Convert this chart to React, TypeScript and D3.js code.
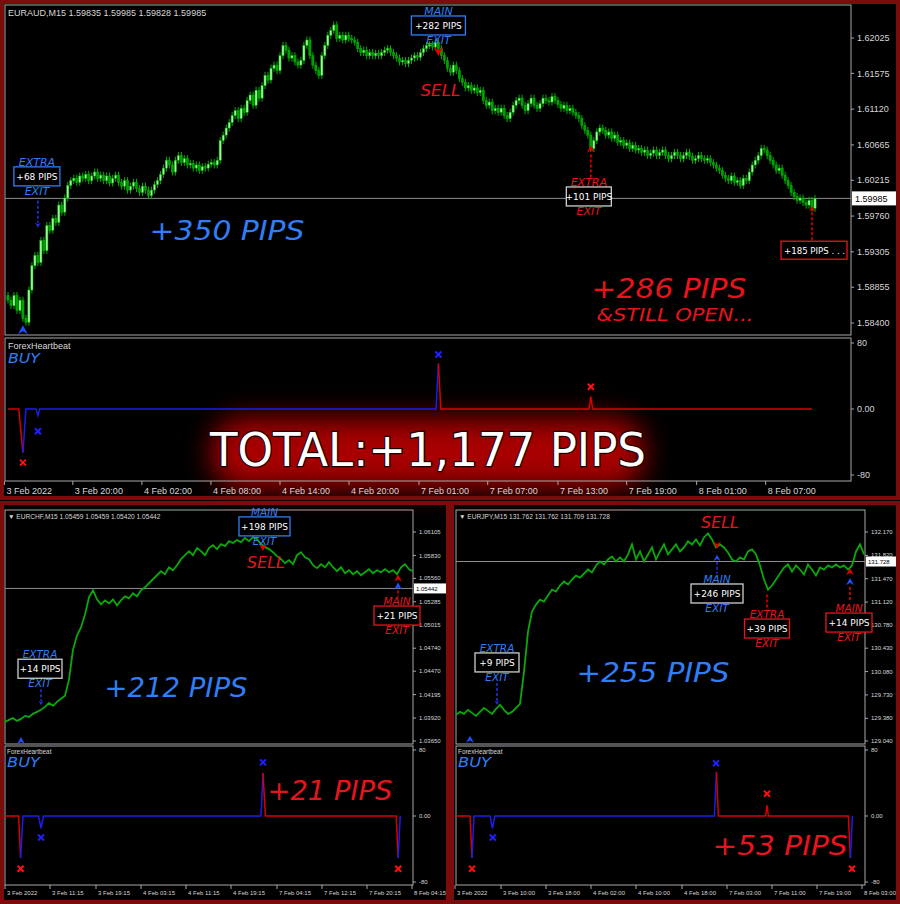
import React from 'react';
import * as d3 from 'd3';

/* ================= DATA ================= */
// ---- EURAUD M15 (top) ----
const euraudHeader = 'EURAUD,M15  1.59835 1.59985 1.59828 1.59985';
const euraudFirstOpen = 1.5875;
const euraudClose = [
  1.5869, 1.5862, 1.5875, 1.5856, 1.5869, 1.5846, 1.5841, 1.5882, 1.5913, 1.5926,
  1.5917, 1.5945, 1.5932, 1.5964, 1.5958, 1.5973, 1.5968, 1.5990, 1.5981, 1.5999,
  1.6015, 1.6021, 1.6024, 1.6019, 1.6027, 1.6024, 1.6029, 1.6021, 1.6027, 1.6032,
  1.6024, 1.6028, 1.6021, 1.6027, 1.6018, 1.6024, 1.6028, 1.6019, 1.6014, 1.6021,
  1.6009, 1.6014, 1.6019, 1.6011, 1.6006, 1.6014, 1.6009, 1.6002, 1.6009, 1.6016,
  1.6021, 1.6029, 1.6037, 1.6047, 1.6041, 1.6032, 1.6047, 1.6053, 1.6044, 1.6049,
  1.6041, 1.6043, 1.6037, 1.6041, 1.6034, 1.6039, 1.6037, 1.6042, 1.6044, 1.6041,
  1.6047, 1.6072, 1.6079, 1.6088, 1.6095, 1.6104, 1.6110, 1.6100, 1.6113, 1.6108,
  1.6123, 1.6130, 1.6117, 1.6136, 1.6126, 1.6142, 1.6155, 1.6149, 1.6164, 1.6168,
  1.6161, 1.6180, 1.6193, 1.6187, 1.6177, 1.6180, 1.6172, 1.6168, 1.6174, 1.6193,
  1.6200, 1.6180, 1.6168, 1.6161, 1.6155, 1.6180, 1.6193, 1.6206, 1.6212, 1.6219,
  1.6202, 1.6206, 1.6200, 1.6206, 1.6202, 1.6200, 1.6197, 1.6189, 1.6184, 1.6187,
  1.6180, 1.6184, 1.6180, 1.6183, 1.6180, 1.6184, 1.6187, 1.6189, 1.6184, 1.6180,
  1.6177, 1.6172, 1.6174, 1.6170, 1.6174, 1.6177, 1.6180, 1.6178, 1.6184, 1.6189,
  1.6193, 1.6194, 1.6191, 1.6197, 1.6189, 1.6180, 1.6174, 1.6164, 1.6159, 1.6168,
  1.6161, 1.6151, 1.6146, 1.6139, 1.6142, 1.6136, 1.6139, 1.6133, 1.6136, 1.6123,
  1.6117, 1.6121, 1.6110, 1.6113, 1.6108, 1.6113, 1.6104, 1.6100, 1.6108, 1.6117,
  1.6123, 1.6126, 1.6117, 1.6110, 1.6119, 1.6126, 1.6117, 1.6113, 1.6119, 1.6126,
  1.6123, 1.6121, 1.6128, 1.6123, 1.6118, 1.6113, 1.6117, 1.6110, 1.6113, 1.6108,
  1.6104, 1.6100, 1.6091, 1.6085, 1.6079, 1.6062, 1.6072, 1.6083, 1.6088, 1.6085,
  1.6079, 1.6083, 1.6075, 1.6079, 1.6070, 1.6072, 1.6066, 1.6069, 1.6062, 1.6066,
  1.6060, 1.6062, 1.6057, 1.6060, 1.6053, 1.6056, 1.6060, 1.6053, 1.6057, 1.6060,
  1.6053, 1.6049, 1.6053, 1.6057, 1.6053, 1.6049, 1.6053, 1.6057, 1.6052, 1.6047,
  1.6049, 1.6053, 1.6049, 1.6047, 1.6049, 1.6044, 1.6041, 1.6037, 1.6034, 1.6028,
  1.6024, 1.6021, 1.6027, 1.6019, 1.6021, 1.6015, 1.6024, 1.6021, 1.6032, 1.6041,
  1.6047, 1.6053, 1.6062, 1.6060, 1.6053, 1.6047, 1.6041, 1.6034, 1.6037, 1.6028,
  1.6021, 1.6015, 1.6006, 1.6001, 1.5996, 1.5999, 1.5993, 1.5990, 1.5996, 1.5986,
  1.59985,
];
const euraudBid = 1.59985;
const euraudPriceTicks = [1.584, 1.58855, 1.59305, 1.5976, 1.60215, 1.60665, 1.6112, 1.61575, 1.62025];
const euraudTimeLabels = ['3 Feb 2022', '3 Feb 20:00', '4 Feb 02:00', '4 Feb 08:00', '4 Feb 14:00', '4 Feb 20:00', '7 Feb 01:00', '7 Feb 07:00', '7 Feb 13:00', '7 Feb 19:00', '8 Feb 01:00', '8 Feb 07:00'];
const euraudTimeBars = [-1.2, 21.7, 44.8, 67.9, 91, 114.1, 137.5, 160.5, 184, 207, 230.4, 253.5];
const euraudIndRed1 = [[0, 0], [3.6, 0], [5, -53]];
const euraudIndBlue = [[5, -53], [6, 0], [9.4, 0], [10, -8], [10.6, 0], [143.2, 0], [144, 55]];
const euraudIndRed2 = [[144, 55], [144.8, 0], [194.4, 0], [195, 15], [195.6, 0], [269, 0]];
const euraudIndMarks = [[5, -65, 'r'], [10, -27, 'b'], [144, 66, 'b'], [195, 27, 'r']];
const euraudBuy = { bar: 5, price: 1.5837 };
const euraudExtraExit = { bar: 10, price: 1.5961, pips: '+68 PIPS' };
const euraudMainExit = { bar: 144, price: 1.6186, pips: '+282 PIPS' };
const euraudExtraExit2 = { bar: 195, price: 1.6062, pips: '+101 PIPS' };
const euraudOpen = { bar: 269, price: 1.5986, pips: '+185 PIPS . . .' };

// ---- EURCHF M15 (bottom left) ----
const eurchfHeader = 'EURCHF,M15  1.05459 1.05459 1.05420 1.05442';
const eurchfClose = [
  1.03874, 1.03898, 1.03921, 1.03886, 1.03910, 1.03945, 1.03933, 1.03969, 1.03992, 1.04016,
  1.04051, 1.04098, 1.04063, 1.04110, 1.04146, 1.04181, 1.04370, 1.04724, 1.04889, 1.04983,
  1.05137, 1.05337, 1.05420, 1.05314, 1.05255, 1.05302, 1.05267, 1.05314, 1.05243, 1.05302,
  1.05349, 1.05326, 1.05385, 1.05349, 1.05420, 1.05455, 1.05503, 1.05550, 1.05597, 1.05644,
  1.05609, 1.05691, 1.05656, 1.05715, 1.05786, 1.05833, 1.05880, 1.05833, 1.05916, 1.05880,
  1.05833, 1.05916, 1.05951, 1.05904, 1.05963, 1.05939, 1.05998, 1.05975, 1.06010, 1.05986,
  1.06034, 1.05998, 1.06045, 1.06022, 1.05963, 1.05927, 1.05904, 1.05868, 1.05821, 1.05786,
  1.05739, 1.05774, 1.05727, 1.05833, 1.05868, 1.05809, 1.05786, 1.05715, 1.05680, 1.05727,
  1.05691, 1.05750, 1.05691, 1.05644, 1.05691, 1.05621, 1.05656, 1.05609, 1.05644, 1.05597,
  1.05632, 1.05668, 1.05621, 1.05656, 1.05632, 1.05668, 1.05632, 1.05656, 1.05609, 1.05691,
  1.05727, 1.05668, 1.05644,
];
const eurchfBid = 1.05442;
const eurchfPriceTicks = [1.0365, 1.0392, 1.04195, 1.0447, 1.0474, 1.05015, 1.05285, 1.0556, 1.0583, 1.06105];
const eurchfTimeLabels = ['3 Feb 2022', '3 Feb 11:15', '3 Feb 19:15', '4 Feb 03:15', '4 Feb 11:15', '4 Feb 19:15', '7 Feb 04:15', '7 Feb 12:15', '7 Feb 20:15', '8 Feb 04:15'];
const eurchfTimeBars = [0, 11.25, 22.75, 34, 45.25, 56.5, 68, 79.25, 90.5, 101.75];
const eurchfIndRed1 = [[0, 0], [3.4, 0], [3.9, -51]];
const eurchfIndBlue = [[3.9, -51], [4.5, 0], [8.4, 0], [9, -15], [9.6, 0], [64, 0], [64.5, 52]];
const eurchfIndRed2 = [[64.5, 52], [65.1, 0], [97.8, 0], [98.3, -51]];
const eurchfIndBlue2 = [[98.3, -51], [98.8, 0]];
const eurchfIndMarks = [[3.9, -64, 'r'], [9, -26, 'b'], [64.5, 65, 'b'], [98.3, -64, 'r']];
const eurchfBuy = { idx: 4, price: 1.03697 };
const eurchfExtraExit = { idx: 9, price: 1.0407, pips: '+14 PIPS' };
const eurchfMainExit = { idx: 64.5, price: 1.0593, pips: '+198 PIPS' };
const eurchfFinalExit = { idx: 98.25, price: 1.0557, pips: '+21 PIPS' };

// ---- EURJPY M15 (bottom right) ----
const eurjpyHeader = 'EURJPY,M15  131.762 131.762 131.709 131.728';
const eurjpyClose = [
  129.431, 129.476, 129.446, 129.506, 129.461, 129.416, 129.476, 129.536, 129.491, 129.446,
  129.521, 129.581, 129.506, 129.446, 129.476, 129.536, 129.596, 130.076, 130.677, 130.978,
  131.083, 131.158, 131.128, 131.218, 131.308, 131.278, 131.368, 131.428, 131.383, 131.458,
  131.518, 131.488, 131.548, 131.608, 131.563, 131.669, 131.729, 131.684, 131.759, 131.804,
  131.729, 131.789, 131.729, 131.834, 131.984, 131.759, 131.879, 131.729, 131.834, 131.939,
  131.759, 131.879, 131.984, 131.834, 131.909, 131.984, 131.879, 131.939, 132.029, 131.984,
  132.059, 131.969, 132.089, 132.149, 132.059, 131.939, 131.984, 131.939, 131.864, 131.759,
  131.729, 131.789, 131.759, 131.879, 131.909, 131.834, 131.669, 131.458, 131.308, 131.368,
  131.458, 131.548, 131.638, 131.684, 131.578, 131.669, 131.608, 131.533, 131.684, 131.608,
  131.518, 131.638, 131.608, 131.669, 131.638, 131.684, 131.638, 131.669, 131.608, 131.669,
  131.879, 131.984, 131.834,
];
const eurjpyBid = 131.728;
const eurjpyPriceTicks = [129.04, 129.38, 129.73, 130.08, 130.43, 130.78, 131.12, 131.47, 131.82, 132.17];
const eurjpyTimeLabels = ['3 Feb 2022', '3 Feb 10:00', '3 Feb 18:00', '4 Feb 02:00', '4 Feb 10:00', '4 Feb 18:00', '7 Feb 03:00', '7 Feb 11:00', '7 Feb 19:00', '8 Feb 03:00'];
const eurjpyTimeBars = [-0.25, 11.25, 22.5, 33.75, 45, 56.5, 67.75, 79, 90.25, 101.5];
const eurjpyIndRed1 = [[0, 0], [3.5, 0], [4, -51]];
const eurjpyIndBlue = [[4, -51], [4.5, 0], [8.5, 0], [9.1, -15], [9.7, 0], [64.6, 0], [65.1, 53]];
const eurjpyIndRed2 = [[65.1, 53], [65.6, 0], [77.4, 0], [77.75, 13], [78.1, 0], [98.1, 0], [98.6, -51]];
const eurjpyIndBlue2 = [[98.6, -51], [99.1, 0]];
const eurjpyIndMarks = [[4, -64, 'r'], [9.2, -26, 'b'], [65, 64, 'b'], [77.75, 27, 'r'], [99, -64, 'r']];
const eurjpyBuy = { idx: 3.5, price: 129.12 };
const eurjpyExtraExit = { idx: 10.25, price: 129.58, pips: '+9 PIPS' };
const eurjpyMainExit = { idx: 65.25, price: 131.98, pips: '+246 PIPS' };
const eurjpyExtraExit2 = { idx: 77.75, price: 131.28, pips: '+39 PIPS' };
const eurjpyFinalExit = { idx: 98.5, price: 131.6, pips: '+14 PIPS' };

const indTicks = [80, 0, -80];
const indTickLabels = ['80', '0.00', '-80'];
const resultLabels = ['+350 PIPS', '+286 PIPS', '&STILL OPEN...', '+212 PIPS', '+21 PIPS', '+255 PIPS', '+53 PIPS', 'TOTAL:+1,177 PIPS'];

/* ================= STYLE ================= */
const FONT = "'Liberation Sans', Arial, sans-serif";
const SFONT = "'DejaVu Sans', Verdana, sans-serif";
const BLUE = '#2f7ef5';
const RED = '#e8141c';
const IBLUE = '#1c1cf0';
const IRED = '#d80000';
const FRAME = '#a8a8a8';
const TXT = '#d6d6d6';
const GREEN = '#0aa80a';
const BORDER = '#7a0c0c';

function RightAxis({ x, ticks, labels, scale, fs }: any) {
  return (
    <g>
      {ticks.map((t: number, i: number) => (
        <g key={i}>
          <line x1={x} x2={x + 3} y1={scale(t)} y2={scale(t)} stroke={FRAME} />
          <text x={x + 6} y={scale(t)} dy="0.35em" fontSize={fs} fill={TXT} fontFamily={FONT}>{labels[i]}</text>
        </g>
      ))}
    </g>
  );
}

function TimeAxis({ y, labels, bars, xs, fs }: any) {
  return (
    <g>
      {labels.map((l: string, i: number) => (
        <g key={i}>
          <line x1={xs(bars[i])} x2={xs(bars[i])} y1={y} y2={y + 4} stroke={FRAME} />
          <text x={xs(bars[i]) + 2} y={y + fs + 4} fontSize={fs} fill={TXT} fontFamily={FONT}>{l}</text>
        </g>
      ))}
    </g>
  );
}

function IndLine({ pts, xs, ys, color }: any) {
  const gen = d3.line<any>().x((d) => xs(d[0])).y((d) => ys(d[1]));
  return <path d={gen(pts) || ''} fill="none" stroke={color} strokeWidth={1.5} />;
}

function XMarks({ marks, xs, ys }: any) {
  return (
    <g>
      {marks.map((m: any, i: number) => {
        const x = xs(m[0]);
        const y = ys(m[1]);
        const c = m[2] === 'r' ? '#ff1010' : '#2020ff';
        return (
          <g key={i} stroke={c} strokeWidth={2}>
            <line x1={x - 3} x2={x + 3} y1={y - 3} y2={y + 3} />
            <line x1={x - 3} x2={x + 3} y1={y + 3} y2={y - 3} />
          </g>
        );
      })}
    </g>
  );
}

function Up({ x, y, c, s = 1 }: any) {
  return <path d={`M${x},${y} L${x + 5 * s},${y + 9 * s} L${x},${y + 6 * s} L${x - 5 * s},${y + 9 * s} Z`} fill={c} />;
}
function Down({ x, y, c, s = 1 }: any) {
  return <path d={`M${x},${y} L${x + 5 * s},${y - 9 * s} L${x},${y - 6 * s} L${x - 5 * s},${y - 9 * s} Z`} fill={c} />;
}
function Dash({ x, y1, y2, c }: any) {
  return <line x1={x} x2={x} y1={y1} y2={y2} stroke={c} strokeWidth={1.6} strokeDasharray="3 2" />;
}

function Stack({ x, t, l1, c1, box, bw, bs, l2, c2, fs = 10.5, bfs = 9 }: any) {
  return (
    <g fontFamily={SFONT}>
      <text x={x} y={t} fontSize={fs} fontStyle="italic" fill={c1} textAnchor="middle">{l1}</text>
      <rect x={x - bw / 2} y={t + 1} width={bw} height={19} fill="#000" stroke={bs} strokeWidth={1.3} />
      <text x={x} y={t + 14} fontSize={bfs} fill="#fff" textAnchor="middle">{box}</text>
      <text x={x} y={t + 29} fontSize={fs} fontStyle="italic" fill={c2} textAnchor="middle">{l2}</text>
    </g>
  );
}

function Big({ x, y, w, fs, c, text, italic = true }: any) {
  return (
    <text x={x} y={y} fontSize={fs} fontFamily={SFONT} fontStyle={italic ? 'italic' : 'normal'} fill={c}
      textAnchor="middle" textLength={w} lengthAdjust="spacingAndGlyphs">{text}</text>
  );
}

export default function App() {
  // scales – top
  const tx = d3.scaleLinear().domain([0, euraudClose.length - 1]).range([8, 815]);
  const ty = d3.scaleLinear().domain([1.584, 1.62025]).range([323, 38]);
  const tiy = d3.scaleLinear().domain([-80, 80]).range([475, 343]);
  // bottom left
  const lx = d3.scaleLinear().domain([0, eurchfClose.length - 1]).range([5, 413]);
  const ly = d3.scaleLinear().domain([1.0365, 1.06105]).range([741, 532]);
  const biy = d3.scaleLinear().domain([-80, 80]).range([882, 750]);
  // bottom right
  const rx = d3.scaleLinear().domain([0, eurjpyClose.length - 1]).range([456, 864]);
  const ry = d3.scaleLinear().domain([129.04, 132.17]).range([741, 532]);

  const lineL = d3.line<number>().x((_, i) => lx(i)).y((d) => ly(d));
  const lineR = d3.line<number>().x((_, i) => rx(i)).y((d) => ry(d));

  const candles = euraudClose.map((c, i) => {
    const o = i === 0 ? euraudFirstOpen : euraudClose[i - 1];
    const x = tx(i);
    const y1 = ty(Math.max(o, c));
    const y2 = ty(Math.min(o, c));
    const up = c >= o;
    return (
      <g key={i}>
        <line x1={x} x2={x} y1={y1 - 3.5} y2={y2 + 3.5} stroke="#00b000" strokeWidth={1} />
        <rect x={x - 1.1} y={y1} width={2.2} height={Math.max(1.5, y2 - y1)} fill={up ? '#9ef59a' : '#00a000'} stroke="#00b400" strokeWidth={0.5} />
      </g>
    );
  });

  // anchors
  const aBuy = [tx(euraudBuy.bar), ty(euraudBuy.price)];
  const aEx = [tx(euraudExtraExit.bar), ty(euraudExtraExit.price)];
  const aMain = [tx(euraudMainExit.bar), ty(euraudMainExit.price)];
  const aEx2 = [tx(euraudExtraExit2.bar), ty(euraudExtraExit2.price)];
  const aOpen = [tx(euraudOpen.bar), ty(euraudOpen.price)];

  const lBuy = [lx(eurchfBuy.idx), ly(eurchfBuy.price)];
  const lEx = [lx(eurchfExtraExit.idx), ly(eurchfExtraExit.price)];
  const lMain = [lx(eurchfMainExit.idx), ly(eurchfMainExit.price)];
  const lFin = [lx(eurchfFinalExit.idx), ly(eurchfFinalExit.price)];

  const rBuy = [rx(eurjpyBuy.idx), ry(eurjpyBuy.price)];
  const rEx = [rx(eurjpyExtraExit.idx), ry(eurjpyExtraExit.price)];
  const rMain = [rx(eurjpyMainExit.idx), ry(eurjpyMainExit.price)];
  const rEx2 = [rx(eurjpyExtraExit2.idx), ry(eurjpyExtraExit2.price)];
  const rFin = [rx(eurjpyFinalExit.idx), ry(eurjpyFinalExit.price)];

  return (
    <svg width={900} height={904} style={{ position: 'absolute', left: 0, top: 0, background: '#000' }}>
      <defs>
        <clipPath id="cT"><rect x={5} y={5} width={846} height={330} /></clipPath>
        <clipPath id="cL"><rect x={5} y={510} width={408} height={234} /></clipPath>
        <clipPath id="cR"><rect x={456} y={510} width={409} height={234} /></clipPath>
        <filter id="glow" x="-30%" y="-80%" width="160%" height="260%">
          <feGaussianBlur stdDeviation="14" />
        </filter>
      </defs>
      <rect width={900} height={904} fill="#000" />

      {/* ============ TOP: EURAUD ============ */}
      <rect x={212} y={418} width={432} height={70} rx={30} fill="#a80000" filter="url(#glow)" />
      <rect x={5} y={5} width={846} height={330} fill="none" stroke={FRAME} />
      <rect x={5} y={338} width={846} height={143} fill="none" stroke={FRAME} />
      <line x1={5} x2={851} y1={ty(euraudBid)} y2={ty(euraudBid)} stroke="#8c8c8c" />
      <g clipPath="url(#cT)">{candles}</g>
      <text x={8} y={16} fontSize={9} fill={TXT} fontFamily={FONT}>{euraudHeader}</text>
      <RightAxis x={851} ticks={euraudPriceTicks} labels={euraudPriceTicks.map((t) => t.toFixed(5))} scale={ty} fs={9} />
      <rect x={852} y={ty(euraudBid) - 7} width={44} height={14} fill="#fff" />
      <text x={855} y={ty(euraudBid)} dy="0.35em" fontSize={9} fill="#000" fontFamily={FONT}>{euraudBid.toFixed(5)}</text>
      <RightAxis x={851} ticks={indTicks} labels={indTickLabels} scale={tiy} fs={9} />
      <TimeAxis y={481} labels={euraudTimeLabels} bars={euraudTimeBars} xs={tx} fs={9} />
      <text x={8} y={349} fontSize={9} fill={TXT} fontFamily={FONT}>ForexHeartbeat</text>
      <text x={8} y={363} fontSize={14} fontStyle="italic" fill={BLUE} fontFamily={SFONT} textLength={32} lengthAdjust="spacingAndGlyphs">BUY</text>
      <IndLine pts={euraudIndRed1} xs={tx} ys={tiy} color={IRED} />
      <IndLine pts={euraudIndBlue} xs={tx} ys={tiy} color={IBLUE} />
      <IndLine pts={euraudIndRed2} xs={tx} ys={tiy} color={IRED} />
      <XMarks marks={euraudIndMarks} xs={tx} ys={tiy} />

      {/* signals top */}
      <Up x={aBuy[0]} y={aBuy[1]} c="#1e50ff" />
      <Dash x={aEx[0]} y1={aEx[1] - 27} y2={aEx[1] - 5} c="#2030e0" />
      <Down x={aEx[0]} y={aEx[1]} c="#2030e0" s={0.6} />
      <Stack x={aEx[0] - 1} t={aEx[1] - 62} l1="EXTRA" c1={BLUE} box={euraudExtraExit.pips} bw={46} bs={BLUE} l2="EXIT" c2={BLUE} fs={11} />
      <Down x={aMain[0]} y={aMain[1] + 5} c="#e00000" />
      <Stack x={aMain[0]} t={aMain[1] - 36} l1="MAIN" c1={BLUE} box={euraudMainExit.pips} bw={54} bs={BLUE} l2="EXIT" c2={BLUE} fs={11} />
      <text x={aMain[0] + 2} y={aMain[1] + 45} fontSize={16} fontStyle="italic" fill={RED} fontFamily={SFONT} textAnchor="middle" textLength={40} lengthAdjust="spacingAndGlyphs">SELL</text>
      <Up x={aEx2[0]} y={aEx2[1] - 3} c="#e00000" s={0.8} />
      <Dash x={aEx2[0]} y1={aEx2[1] + 6} y2={aEx2[1] + 30} c="#e00000" />
      <Stack x={aEx2[0] - 2} t={aEx2[1] + 37.5} l1="EXTRA" c1={RED} box={euraudExtraExit2.pips} bw={45} bs="#cfcfcf" l2="EXIT" c2={RED} fs={11} />
      <Up x={aOpen[0]} y={aOpen[1] - 2} c="#e00000" s={0.6} />
      <Dash x={aOpen[0]} y1={aOpen[1] + 4} y2={aOpen[1] + 32} c="#e00000" />
      <rect x={aOpen[0] - 31} y={aOpen[1] + 33} width={66} height={18} fill="#000" stroke={RED} strokeWidth={1.3} />
      <text x={aOpen[0] - 28} y={aOpen[1] + 46} fontSize={8.6} fill="#fff" fontFamily={SFONT}>{euraudOpen.pips}</text>

      <Big x={227} y={240} w={155} fs={27} c={BLUE} text={resultLabels[0]} />
      <Big x={669} y={298} w={155} fs={27} c={RED} text={resultLabels[1]} />
      <Big x={675} y={321} w={157} fs={17} c={RED} text={resultLabels[2]} />

      {/* ============ BOTTOM LEFT: EURCHF ============ */}
      <rect x={5} y={510} width={408} height={234} fill="none" stroke={FRAME} />
      <rect x={5} y={746} width={408} height={139} fill="none" stroke={FRAME} />
      <line x1={5} x2={413} y1={ly(eurchfBid)} y2={ly(eurchfBid)} stroke="#8c8c8c" />
      <g clipPath="url(#cL)">
        <path d={lineL(eurchfClose) || ''} fill="none" stroke={GREEN} strokeWidth={1.8} />
      </g>
      <text x={8} y={519} fontSize={6.6} fill={TXT} fontFamily={FONT}>{'\u25BC ' + eurchfHeader}</text>
      <RightAxis x={413} ticks={eurchfPriceTicks} labels={eurchfPriceTicks.map((t) => t.toFixed(5))} scale={ly} fs={6} />
      <rect x={414} y={ly(eurchfBid) - 5} width={32} height={10} fill="#fff" />
      <text x={416} y={ly(eurchfBid)} dy="0.35em" fontSize={6} fill="#000" fontFamily={FONT}>{eurchfBid.toFixed(5)}</text>
      <RightAxis x={413} ticks={indTicks} labels={indTickLabels} scale={biy} fs={6} />
      <TimeAxis y={885} labels={eurchfTimeLabels} bars={eurchfTimeBars} xs={lx} fs={6} />
      <text x={7} y={754} fontSize={6.4} fill={TXT} fontFamily={FONT}>ForexHeartbeat</text>
      <text x={7} y={767} fontSize={14} fontStyle="italic" fill={BLUE} fontFamily={SFONT} textLength={33} lengthAdjust="spacingAndGlyphs">BUY</text>
      <IndLine pts={eurchfIndRed1} xs={lx} ys={biy} color={IRED} />
      <IndLine pts={eurchfIndBlue} xs={lx} ys={biy} color={IBLUE} />
      <IndLine pts={eurchfIndRed2} xs={lx} ys={biy} color={IRED} />
      <IndLine pts={eurchfIndBlue2} xs={lx} ys={biy} color={IBLUE} />
      <XMarks marks={eurchfIndMarks} xs={lx} ys={biy} />

      <Up x={lBuy[0]} y={lBuy[1]} c="#1e50ff" s={0.8} />
      <Dash x={lEx[0]} y1={lEx[1] - 16} y2={lEx[1] - 4} c="#2030e0" />
      <Down x={lEx[0]} y={lEx[1]} c="#2030e0" s={0.5} />
      <Stack x={lEx[0] - 1} t={lEx[1] - 47} l1="EXTRA" c1={BLUE} box={eurchfExtraExit.pips} bw={44} bs="#cfcfcf" l2="EXIT" c2={BLUE} />
      <Down x={lMain[0]} y={lMain[1] + 4} c="#e00000" s={0.8} />
      <Stack x={lMain[0] + 1.5} t={lMain[1] - 31} l1="MAIN" c1={BLUE} box={eurchfMainExit.pips} bw={51} bs={BLUE} l2="EXIT" c2={BLUE} />
      <text x={lMain[0] + 3} y={lMain[1] + 21} fontSize={15} fontStyle="italic" fill={RED} fontFamily={SFONT} textAnchor="middle" textLength={38} lengthAdjust="spacingAndGlyphs">SELL</text>
      <Up x={lFin[0]} y={lFin[1] - 3} c="#e00000" s={0.8} />
      <Up x={lFin[0]} y={lFin[1] + 5} c="#1e50ff" s={0.8} />
      <Dash x={lFin[0]} y1={lFin[1] + 13} y2={lFin[1] + 19} c="#e00000" />
      <Stack x={lFin[0] - 1} t={lFin[1] + 27.5} l1="MAIN" c1={RED} box={eurchfFinalExit.pips} bw={46} bs={RED} l2="EXIT" c2={RED} />

      <Big x={176} y={697} w={143} fs={26} c={BLUE} text={resultLabels[3]} />
      <Big x={330} y={800} w={125} fs={26} c={RED} text={resultLabels[4]} />

      {/* ============ BOTTOM RIGHT: EURJPY ============ */}
      <rect x={456} y={510} width={409} height={234} fill="none" stroke={FRAME} />
      <rect x={456} y={746} width={409} height={139} fill="none" stroke={FRAME} />
      <line x1={456} x2={865} y1={ry(eurjpyBid)} y2={ry(eurjpyBid)} stroke="#8c8c8c" />
      <g clipPath="url(#cR)">
        <path d={lineR(eurjpyClose) || ''} fill="none" stroke={GREEN} strokeWidth={1.8} />
      </g>
      <text x={459} y={519} fontSize={6.6} fill={TXT} fontFamily={FONT}>{'\u25BC ' + eurjpyHeader}</text>
      <RightAxis x={865} ticks={eurjpyPriceTicks} labels={eurjpyPriceTicks.map((t) => t.toFixed(3))} scale={ry} fs={6} />
      <rect x={866} y={ry(eurjpyBid) - 5} width={31} height={10} fill="#fff" />
      <text x={868} y={ry(eurjpyBid)} dy="0.35em" fontSize={6} fill="#000" fontFamily={FONT}>{eurjpyBid.toFixed(3)}</text>
      <RightAxis x={865} ticks={indTicks} labels={indTickLabels} scale={biy} fs={6} />
      <TimeAxis y={885} labels={eurjpyTimeLabels} bars={eurjpyTimeBars} xs={rx} fs={6} />
      <text x={458} y={754} fontSize={6.4} fill={TXT} fontFamily={FONT}>ForexHeartbeat</text>
      <text x={458} y={767} fontSize={14} fontStyle="italic" fill={BLUE} fontFamily={SFONT} textLength={33} lengthAdjust="spacingAndGlyphs">BUY</text>
      <IndLine pts={eurjpyIndRed1} xs={rx} ys={biy} color={IRED} />
      <IndLine pts={eurjpyIndBlue} xs={rx} ys={biy} color={IBLUE} />
      <IndLine pts={eurjpyIndRed2} xs={rx} ys={biy} color={IRED} />
      <IndLine pts={eurjpyIndBlue2} xs={rx} ys={biy} color={IBLUE} />
      <XMarks marks={eurjpyIndMarks} xs={rx} ys={biy} />

      <Up x={rBuy[0]} y={rBuy[1]} c="#1e50ff" s={0.8} />
      <Dash x={rEx[0]} y1={rEx[1] - 22} y2={rEx[1] - 4} c="#2030e0" />
      <Down x={rEx[0]} y={rEx[1]} c="#2030e0" s={0.5} />
      <Stack x={rEx[0]} t={rEx[1] - 53} l1="EXTRA" c1={BLUE} box={eurjpyExtraExit.pips} bw={44} bs="#cfcfcf" l2="EXIT" c2={BLUE} />
      <Down x={rMain[0]} y={rMain[1] + 4} c="#e00000" s={0.8} />
      <Up x={rMain[0]} y={rMain[1] + 10} c="#1e50ff" s={0.7} />
      <Dash x={rMain[0]} y1={rMain[1] + 17} y2={rMain[1] + 29} c="#2030e0" />
      <Stack x={rMain[0]} t={rMain[1] + 38.3} l1="MAIN" c1={BLUE} box={eurjpyMainExit.pips} bw={52} bs="#cfcfcf" l2="EXIT" c2={BLUE} />
      <text x={rMain[0] + 3} y={rMain[1] - 17} fontSize={15} fontStyle="italic" fill={RED} fontFamily={SFONT} textAnchor="middle" textLength={38} lengthAdjust="spacingAndGlyphs">SELL</text>
      <Dash x={rEx2[0]} y1={rEx2[1] + 3} y2={rEx2[1] + 19} c="#e00000" />
      <Stack x={rEx2[0]} t={rEx2[1] + 26.6} l1="EXTRA" c1={RED} box={eurjpyExtraExit2.pips} bw={45} bs={RED} l2="EXIT" c2={RED} />
      <Up x={rFin[0]} y={rFin[1] - 2} c="#e00000" s={0.8} />
      <Up x={rFin[0]} y={rFin[1] + 8} c="#1e50ff" s={0.8} />
      <Dash x={rFin[0]} y1={rFin[1] + 17} y2={rFin[1] + 31} c="#e00000" />
      <Stack x={rFin[0] - 1} t={rFin[1] + 42} l1="MAIN" c1={RED} box={eurjpyFinalExit.pips} bw={46} bs={RED} l2="EXIT" c2={RED} />

      <Big x={653} y={682} w={153} fs={26} c={BLUE} text={resultLabels[5]} />
      <Big x={780} y={855} w={135} fs={26} c={RED} text={resultLabels[6]} />

      {/* ============ panel borders ============ */}
      <rect x={2} y={2} width={896} height={496} fill="none" stroke={BORDER} strokeWidth={4} />
      <rect x={2} y={503} width={446} height={399} fill="none" stroke={BORDER} strokeWidth={4} />
      <rect x={452} y={503} width={446} height={399} fill="none" stroke={BORDER} strokeWidth={4} />

      {/* ============ TOTAL ============ */}
      <text x={428} y={466} fontSize={46} fontFamily={SFONT} fill="#fff" stroke="#1a0000" strokeWidth={2.5}
        paintOrder="stroke" textAnchor="middle" textLength={436} lengthAdjust="spacingAndGlyphs">{resultLabels[7]}</text>
    </svg>
  );
}
